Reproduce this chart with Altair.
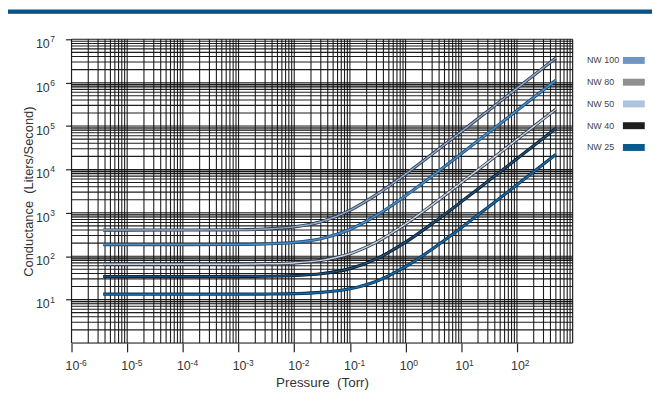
import altair as alt
import pandas as pd

# ---- data ----
series_names = ["NW 100", "NW 80", "NW 50", "NW 40", "NW 25"]
pressure = [3.7e-6, 1e-5, 1e-4, 1e-3, 3e-3, 1e-2, 3e-2, 1e-1, 3e-1, 1, 3, 10, 30, 100, 500]
nw100 = [400, 400, 401, 407, 422, 474, 622, 1140, 2620, 7800, 22600, 74400, 222000, 740000, 3700000]
nw80 = [185, 185, 185, 187, 192, 208, 253, 413, 869, 2470, 7030, 23000, 68600, 228000, 1140000]
nw50 = [65, 65, 65, 65.5, 66.5, 70, 80, 114, 211, 553, 1530, 4950, 14700, 48900, 244000]
nw40 = [34, 34, 34, 34.2, 34.5, 35.8, 39.3, 51.6, 86.8, 210, 562, 1790, 5310, 17600, 88000]
nw25 = [13.3, 13.3, 13.3, 13.3, 13.4, 13.7, 14.6, 17.7, 26.5, 57.3, 145, 453, 1330, 4410, 22000]

x_ticks = [1e-6, 1e-5, 1e-4, 1e-3, 1e-2, 1e-1, 1, 10, 100]
x_exps = ["-6", "-5", "-4", "-3", "-2", "-1", "0", "1", "2"]
y_ticks = [10, 100, 1e3, 1e4, 1e5, 1e6, 1e7]
y_exps = ["1", "2", "3", "4", "5", "6", "7"]

# ---- styles ----
outer_colors = ["#2e3b4e", "#1d4f7a", "#333b48", "#0d1b2a", "#0b3556"]
inner_colors = ["#8fa9c9", "#4f8cc4", "#c5d3e6", "#1c4f78", "#1768a6"]
swatch_colors = ["#6f95c0", "#8f8f8f", "#adc3de", "#1e1e1e", "#0b5a8c"]
FONT = "Liberation Sans"
TXT = "#333333"

rows = []
for name, vals in zip(series_names, [nw100, nw80, nw50, nw40, nw25]):
    for p, c in zip(pressure, vals):
        rows.append({"series": name, "P": p, "C": c})
df = pd.DataFrame(rows)

vgrid = pd.DataFrame({"P": [m * 10.0 ** k for k in range(-6, 3) for m in range(1, 10)] + [1e3]})
hgrid = pd.DataFrame({"h": [m * 10.0 ** k for k in range(0, 7) for m in range(1, 10)] + [1e7]})
bands = pd.DataFrame({"h": [0.87 * 10.0 ** k for k in range(1, 7)]})
xlab = pd.DataFrame({"P": x_ticks, "base": ["10"] * len(x_ticks), "exp": x_exps})
ylab = pd.DataFrame({"C": y_ticks, "base": ["10"] * len(y_ticks), "exp": y_exps})

xscale = alt.Scale(type="log", domain=[1e-6, 1e3], nice=False)
yscale = alt.Scale(type="log", domain=[1, 1e7], nice=False)

x_axis = alt.Axis(values=x_ticks, labels=False, grid=False, domain=False,
                  tickSize=9, tickColor="#222", tickWidth=1.2,
                  title="Pressure\u00a0\u00a0(Torr)", titleFont=FONT, titleFontSize=13.5,
                  titleFontWeight="normal", titleColor=TXT, titlePadding=23)
y_axis = alt.Axis(values=y_ticks, labels=False, grid=False, domain=False,
                  tickSize=6, tickColor="#222", tickWidth=1.2,
                  title="Conductance\u00a0\u00a0(Liters/Second)", titleFont=FONT, titleFontSize=13,
                  titleFontWeight="normal", titleColor=TXT, titlePadding=30)

band_layer = alt.Chart(bands).mark_rule(color="#8a8a8a", strokeWidth=4, opacity=0.7).encode(
    y=alt.Y("h:Q", scale=yscale, axis=None)
)
vgrid_layer = alt.Chart(vgrid).mark_rule(color="#111111", strokeWidth=1.1, opacity=0.95).encode(
    x=alt.X("P:Q", scale=xscale, axis=x_axis)
)
hgrid_layer = alt.Chart(hgrid).mark_rule(color="#111111", strokeWidth=1.1, opacity=0.95).encode(
    y=alt.Y("h:Q", scale=yscale, axis=None)
)

outer = alt.Chart(df).mark_line(strokeWidth=3.2, interpolate="monotone").encode(
    x=alt.X("P:Q", scale=xscale, axis=x_axis),
    y=alt.Y("C:Q", scale=yscale, axis=y_axis),
    color=alt.Color("series:N", scale=alt.Scale(domain=series_names, range=outer_colors), legend=None),
)
inner = alt.Chart(df).mark_line(strokeWidth=1.5, interpolate="monotone").encode(
    x=alt.X("P:Q", scale=xscale, axis=x_axis),
    y=alt.Y("C:Q", scale=yscale, axis=None),
    color=alt.Color("series:N", scale=alt.Scale(domain=series_names, range=inner_colors), legend=None),
)

# tick labels as base + superscript exponent
xbase = alt.Chart(xlab).mark_text(align="center", baseline="alphabetic", fontSize=12.5, color=TXT, font=FONT, dx=1).encode(
    x=alt.X("P:Q", scale=xscale, axis=x_axis), y=alt.value(333), text="base:N"
)
xexp = alt.Chart(xlab).mark_text(align="left", baseline="alphabetic", fontSize=8.5, color=TXT, font=FONT, dx=7.8).encode(
    x=alt.X("P:Q", scale=xscale, axis=x_axis), y=alt.value(329), text="exp:N"
)
ybase = alt.Chart(ylab).mark_text(align="right", baseline="alphabetic", fontSize=12.5, color=TXT, font=FONT, dy=9).encode(
    y=alt.Y("C:Q", scale=yscale, axis=None), x=alt.value(-22), text="base:N"
)
yexp = alt.Chart(ylab).mark_text(align="left", baseline="alphabetic", fontSize=8.5, color=TXT, font=FONT, dy=3).encode(
    y=alt.Y("C:Q", scale=yscale, axis=None), x=alt.value(-21.5), text="exp:N"
)

leg_df = pd.DataFrame({"series": series_names})
leg_y = alt.Y("series:N", scale=alt.Scale(type="point", domain=series_names, range=[21.3, 109.0], padding=0), axis=None)
legend_text = alt.Chart(leg_df).mark_text(align="left", baseline="middle", fontSize=9, color="#444", font=FONT).encode(
    x=alt.value(519.4), y=leg_y, text="series:N"
)
legend_sw = alt.Chart(leg_df).mark_rule(strokeWidth=7).encode(
    x=alt.value(555.7), x2=alt.value(577.7), y=leg_y,
    color=alt.Color("series:N", scale=alt.Scale(domain=series_names, range=swatch_colors), legend=None),
)

banner = alt.Chart(pd.DataFrame({"a": [0]})).mark_rect(color="#00578f").encode(
    x=alt.value(-64), x2=alt.value(590), y=alt.value(-30), y2=alt.value(-26.6)
)
banner_line = alt.Chart(pd.DataFrame({"a": [0]})).mark_rule(color="#2a3f55", strokeWidth=1).encode(
    x=alt.value(-64), x2=alt.value(590), y=alt.value(-26.2)
)

chart = alt.layer(
    band_layer, vgrid_layer, hgrid_layer, outer, inner,
    xbase, xexp, ybase, yexp,
    legend_text, legend_sw, banner, banner_line
).resolve_scale(
    y="independent", color="independent"
).properties(
    width=505, height=306,
    autosize=alt.AutoSizeParams(type="none"),
    padding={"left": 64, "top": 30, "right": 80, "bottom": 60},
    background="white",
).configure_view(stroke="#111", strokeWidth=1.5).configure(font=FONT)

chart.save("out.html", embed_options={"renderer": "svg", "actions": False})
